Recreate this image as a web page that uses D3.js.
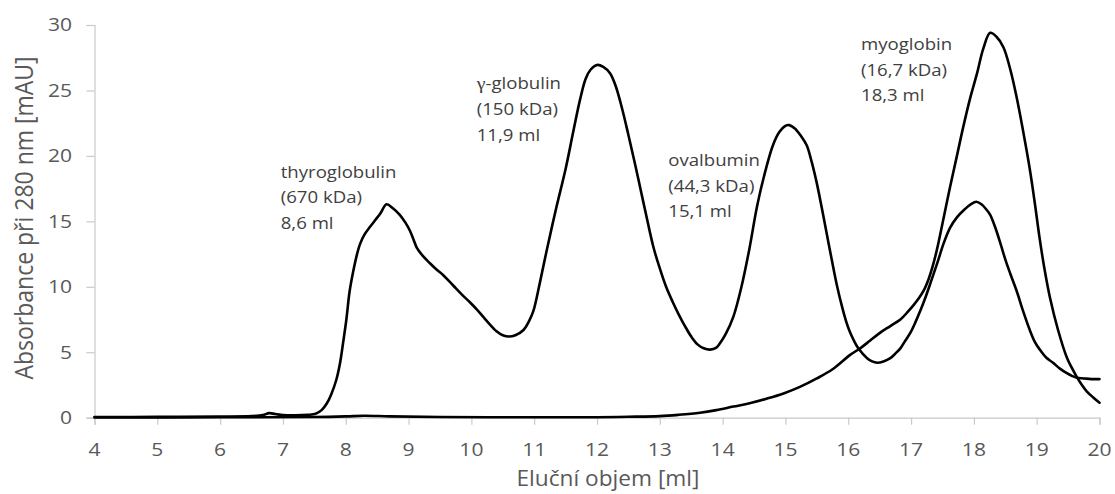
<!DOCTYPE html>
<html>
<head>
<meta charset="utf-8">
<script src="https://cdn.jsdelivr.net/npm/d3@7/dist/d3.min.js"></script>
<style>
  html, body { margin: 0; padding: 0; background: #fff; }
  svg { display: block; }
</style>
</head>
<body>
<svg id="chart" width="1115" height="494"></svg>
<script>
// Elution profile of the protein standards mixture (series A)
const volumeA = [4.0, 5.0, 6.0, 6.5, 6.68, 6.78, 6.88, 7.0, 7.2, 7.4, 7.52, 7.62, 7.7, 7.77, 7.85, 7.91, 7.96,
  8.01, 8.06, 8.12, 8.18, 8.23, 8.3, 8.39, 8.47, 8.55, 8.65, 8.75, 8.86, 8.95, 9.02, 9.08, 9.13, 9.22, 9.34,
  9.45, 9.55, 9.71, 9.85, 9.98, 10.1, 10.19, 10.3, 10.4, 10.5, 10.6, 10.7, 10.83, 10.92, 10.99, 11.09, 11.2,
  11.35, 11.5, 11.62, 11.73, 11.82, 11.9, 12.0, 12.1, 12.21, 12.3, 12.4, 12.5, 12.6, 12.7, 12.8, 12.9, 13.0,
  13.1, 13.2, 13.3, 13.4, 13.5, 13.6, 13.7, 13.8, 13.9, 13.96, 14.05, 14.17, 14.3, 14.43, 14.55, 14.7, 14.8, 14.9,
  15.0, 15.06, 15.15, 15.25, 15.34, 15.42, 15.5, 15.58, 15.66, 15.74, 15.82, 15.9, 15.97, 16.03, 16.1, 16.16, 16.3,
  16.38, 16.46, 16.56, 16.67, 16.75, 16.83, 16.91, 16.99, 17.07, 17.15, 17.23, 17.31, 17.43, 17.51, 17.62,
  17.73, 17.85, 17.95, 18.04, 18.12, 18.2, 18.26, 18.35, 18.43, 18.5, 18.58, 18.68, 18.78, 18.89, 18.97, 19.05,
  19.15, 19.26, 19.37, 19.48, 19.56, 19.64, 19.75, 19.87, 20.0];
const absorbanceA = [0.05, 0.06, 0.08, 0.12, 0.2, 0.35, 0.28, 0.2, 0.18, 0.22, 0.3, 0.6, 1.1, 1.8, 2.9, 4.2, 5.8,
  7.5, 9.6, 11.2, 12.5, 13.3, 14.0, 14.6, 15.1, 15.6, 16.3, 16.0, 15.5, 14.9, 14.3, 13.6, 13.0, 12.4, 11.8,
  11.3, 10.9, 10.1, 9.4, 8.8, 8.2, 7.7, 7.1, 6.6, 6.3, 6.2, 6.3, 6.7, 7.4, 8.2, 10.3, 12.8,
  16.0, 19.0, 21.8, 24.3, 25.9, 26.6, 26.95, 26.8, 26.3, 25.3, 23.6, 21.6, 19.5, 17.3, 15.1, 13.0, 11.4,
  10.0, 8.9, 7.9, 7.0, 6.2, 5.6, 5.3, 5.2, 5.35, 5.7, 6.4, 7.7, 10.0, 13.0, 16.2, 19.2, 20.8, 21.8,
  22.3, 22.35, 22.1, 21.5, 20.8, 19.5, 17.9, 16.0, 14.0, 12.0, 10.1, 8.5, 7.3, 6.5, 5.8, 5.3, 4.55,
  4.3, 4.2, 4.3, 4.55, 4.9, 5.3, 5.9, 6.5, 7.3, 8.2, 9.2, 10.3, 12.0, 13.2, 14.5,
  15.3, 15.9, 16.3, 16.5, 16.3, 15.9, 15.5, 14.4, 13.2, 12.1, 11.0, 9.7, 8.2, 6.7, 5.8, 5.2,
  4.6, 4.2, 3.75, 3.4, 3.2, 3.05, 3.0, 2.95, 2.95];

// Elution profile of myoglobin alone (series B)
const volumeB = [4.0, 6.0, 7.5, 8.0, 8.3, 8.7, 9.5, 11.0, 12.0, 12.5, 13.0, 13.3, 13.64, 13.9, 14.17, 14.43,
  14.7, 14.97, 15.23, 15.5, 15.75, 16.03, 16.19, 16.35, 16.51, 16.67, 16.83, 16.95, 17.04, 17.12, 17.2, 17.28,
  17.34, 17.41, 17.52, 17.62, 17.73, 17.83, 17.94, 18.05, 18.15, 18.26, 18.36, 18.47, 18.58, 18.68, 18.78,
  18.89, 18.97, 19.05, 19.13, 19.21, 19.34, 19.48, 19.56, 19.64, 19.72, 19.8, 19.9, 20.0];
const absorbanceB = [0.02, 0.03, 0.05, 0.1, 0.15, 0.1, 0.05, 0.03, 0.04, 0.07, 0.12, 0.22, 0.38, 0.58, 0.85, 1.1,
  1.45, 1.85, 2.35, 3.0, 3.7, 4.8, 5.3, 5.9, 6.5, 7.0, 7.5, 8.1, 8.6, 9.1, 9.7, 10.6,
  11.5, 12.8, 15.3, 17.6, 20.0, 22.2, 24.4, 26.3, 28.2, 29.4, 29.1, 28.3, 26.6, 24.5, 22.0,
  19.0, 16.4, 13.6, 11.2, 9.2, 6.7, 4.6, 3.8, 3.1, 2.5, 2.0, 1.55, 1.15];

// Axis ticks
const xTicks = [4, 5, 6, 7, 8, 9, 10, 11, 12, 13, 14, 15, 16, 17, 18, 19, 20];
const yTicks = [0, 5, 10, 15, 20, 25, 30];

// Peak annotations
const peakNames = ["thyroglobulin", "γ-globulin", "ovalbumin", "myoglobin"];
const peakMasses = ["(670 kDa)", "(150 kDa)", "(44,3 kDa)", "(16,7 kDa)"];
const peakVolumes = ["8,6 ml", "11,9 ml", "15,1 ml", "18,3 ml"];

const xTitle = "Eluční objem [ml]";
const yTitle = "Absorbance při 280 nm [mAU]";

// ---- drawing ----
const svg = d3.select("#chart");
const FONT = "'Open Sans', sans-serif";
const AXIS_GREY = "#c9c9c9";
const LABEL_GREY = "#595959";

const x = d3.scaleLinear().domain([4, 20]).range([94.5, 1099.5]);
const y = d3.scaleLinear().domain([0, 30]).range([417.7, 25]);

// axes (lines + tick marks), labels drawn separately below
const xAxis = svg.append("g")
  .attr("transform", `translate(0,${y(0)})`)
  .call(d3.axisBottom(x).tickValues(xTicks).tickSize(7).tickFormat(""));
const yAxis = svg.append("g")
  .attr("transform", `translate(${x(4)},0)`)
  .call(d3.axisLeft(y).tickValues(yTicks).tickSize(8).tickFormat(""));
[xAxis, yAxis].forEach(g => {
  g.selectAll("path.domain").attr("stroke", AXIS_GREY).attr("stroke-width", 1.2);
  g.selectAll(".tick line").attr("stroke", AXIS_GREY).attr("stroke-width", 1.2);
});

// tick labels, slightly widened glyphs
svg.append("g").selectAll("text").data(xTicks).join("text")
  .attr("transform", d => `translate(${x(d)},456) scale(1.17,1)`)
  .attr("text-anchor", "middle")
  .attr("font-family", FONT).attr("font-size", 18).attr("fill", LABEL_GREY)
  .text(d => d);
svg.append("g").selectAll("text").data(yTicks).join("text")
  .attr("transform", d => `translate(72,${y(d)}) scale(1.17,1)`)
  .attr("dy", "0.36em")
  .attr("text-anchor", "end")
  .attr("font-family", FONT).attr("font-size", 18).attr("fill", LABEL_GREY)
  .text(d => d);

// axis titles
svg.append("text")
  .attr("transform", `translate(608,486) scale(1.08,1)`)
  .attr("text-anchor", "middle")
  .attr("font-family", FONT).attr("font-size", 21).attr("fill", LABEL_GREY)
  .text(xTitle);
svg.append("text")
  .attr("transform", `translate(33,218) scale(1.1,1) rotate(-90)`)
  .attr("text-anchor", "middle")
  .attr("font-family", FONT).attr("font-size", 23).attr("fill", LABEL_GREY)
  .text(yTitle);

// traces
const line = d3.line()
  .x(d => x(d[0]))
  .y(d => y(d[1]))
  .curve(d3.curveCatmullRom.alpha(0.5));

const traceA = volumeA.map((v, i) => [v, absorbanceA[i]]);
const traceB = volumeB.map((v, i) => [v, absorbanceB[i]]);

svg.append("g").selectAll("path").data([traceB, traceA]).join("path")
  .attr("d", line)
  .attr("fill", "none")
  .attr("stroke", "#000")
  .attr("stroke-width", 2.6)
  .attr("stroke-linejoin", "round")
  .attr("stroke-linecap", "round");

// peak labels: anchor of the first text line in data units
const labelAnchors = [[6.965, 18.33], [10.085, 25.09], [13.135, 19.23], [16.203, 28.09]];
const lineGap = 25.7;
const labels = svg.append("g")
  .attr("font-family", FONT).attr("font-size", 15.5).attr("fill", "#404040");
peakNames.forEach((name, i) => {
  const ax = x(labelAnchors[i][0]);
  const ay = y(labelAnchors[i][1]);
  [name, peakMasses[i], peakVolumes[i]].forEach((txt, j) => {
    const t = labels.append("text")
      .attr("transform", `translate(${ax},${ay + j * lineGap}) scale(1.2,1)`);
    if (j === 0 && txt.startsWith("γ")) {
      t.append("tspan").attr("font-family", "'Liberation Serif', serif").attr("font-size", 16.5).text("γ");
      t.append("tspan").text(txt.slice(1));
    } else {
      t.text(txt);
    }
  });
});
</script>
</body>
</html>
